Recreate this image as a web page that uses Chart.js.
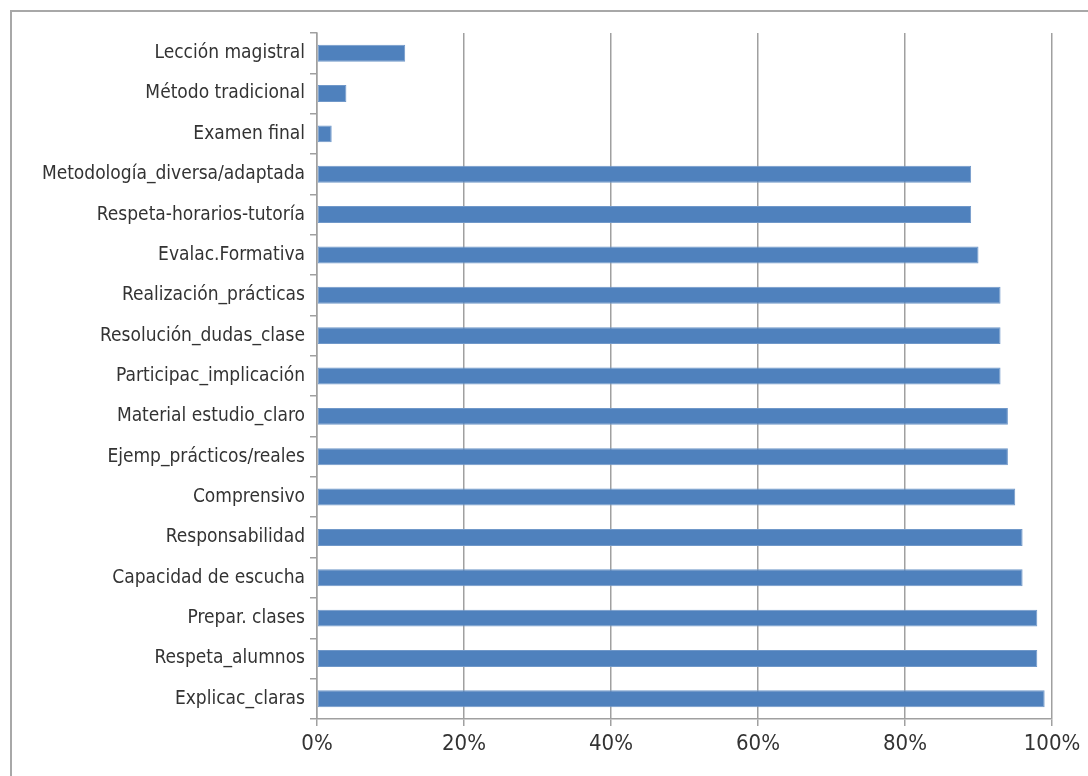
<!DOCTYPE html>
<html>
<head>
<meta charset="utf-8">
<script src="https://cdn.jsdelivr.net/npm/chart.js@4"></script>
<style>
  html, body { margin: 0; padding: 0; background: #fff; }
  #wrap { position: relative; width: 1088px; height: 776px; overflow: hidden; }
  #frame { position: absolute; left: 10px; top: 10px; right: -10px; bottom: -10px;
           border-top: 2px solid #a8a8a8; border-left: 2px solid #a8a8a8; }
  canvas { position: absolute; left: 0; top: 0; }
</style>
</head>
<body>
<div id="wrap">
  <div id="frame"></div>
  <canvas id="chart" width="1088" height="776"></canvas>
</div>
<script>
// categorías, de arriba abajo
const categories = [
  'Lección magistral',
  'Método tradicional',
  'Examen final',
  'Metodología_diversa/adaptada',
  'Respeta-horarios-tutoría',
  'Evalac.Formativa',
  'Realización_prácticas',
  'Resolución_dudas_clase',
  'Participac_implicación',
  'Material estudio_claro',
  'Ejemp_prácticos/reales',
  'Comprensivo',
  'Responsabilidad',
  'Capacidad de escucha',
  'Prepar. clases',
  'Respeta_alumnos',
  'Explicac_claras'
];
// porcentaje por categoría
const percentValues = [12, 4, 2, 89, 89, 90, 93, 93, 93, 94, 94, 95, 96, 96, 98, 98, 99];
const tickValues = [0, 20, 40, 60, 80, 100];

const FONT = '"Liberation Sans Narrow", "DejaVu Sans Condensed", sans-serif';
const GRID = '#a0a0a0';

new Chart(document.getElementById('chart').getContext('2d'), {
  type: 'bar',
  data: {
    labels: categories,
    datasets: [{
      data: percentValues,
      backgroundColor: '#4f81bd',
      borderColor: '#7098c9',
      borderWidth: 1,
      borderSkipped: false,
      categoryPercentage: 1,
      barPercentage: 0.42
    }]
  },
  options: {
    indexAxis: 'y',
    responsive: false,
    animation: false,
    layout: { padding: { top: 33, right: 36, left: 0, bottom: 0 } },
    plugins: { legend: { display: false }, tooltip: { enabled: false } },
    scales: {
      x: {
        min: 0, max: 100,
        afterBuildTicks: (s) => { s.ticks = tickValues.map(v => ({ value: v })); },
        afterFit: (s) => { s.height = 57; },
        ticks: { callback: v => v + '%', color: '#333', padding: 5, font: { family: FONT, size: 22 } },
        grid: { color: GRID, lineWidth: 1.5, tickLength: 7, drawTicks: true },
        border: { color: GRID, width: 1.5 }
      },
      y: {
        afterFit: (s) => { s.width = 317; },
        ticks: { color: '#333', padding: 5, font: { family: FONT, size: 19 } },
        grid: { offset: true, drawOnChartArea: false, drawTicks: true, tickLength: 7, color: GRID, lineWidth: 1.5 },
        border: { color: GRID, width: 1.5 }
      }
    }
  }
});
</script>
</body>
</html>
